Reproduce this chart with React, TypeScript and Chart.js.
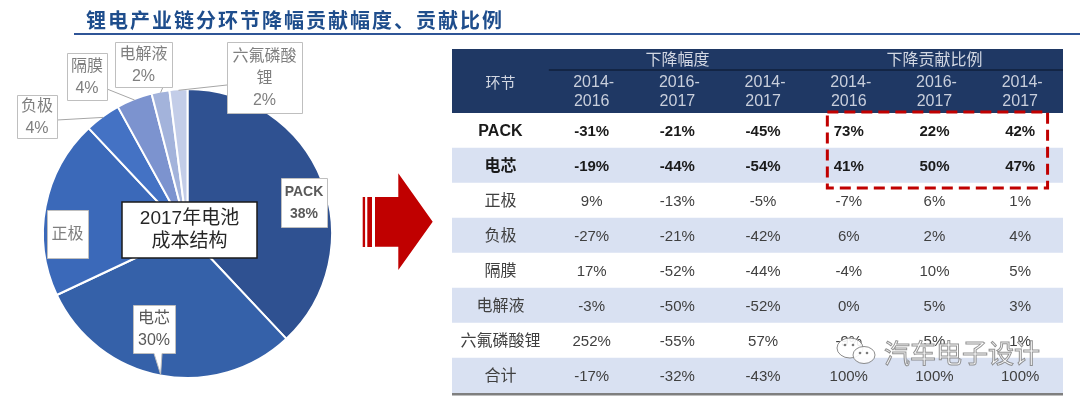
import React, { useEffect, useRef } from 'react';
import { Chart, registerables } from 'chart.js';

Chart.register(...registerables);

// ---------- data ----------
const titleText = '锂电产业链分环节降幅贡献幅度、贡献比例';
const pieCaption = ['2017年电池', '成本结构'];
const sliceLabels = ['PACK', '电芯', '正极', '负极', '隔膜', '电解液', '六氟磷酸锂'];
const sliceValues = [38, 30, 20, 4, 4, 2, 2];

const rowNames = ['PACK', '电芯', '正极', '负极', '隔膜', '电解液', '六氟磷酸锂', '合计'];
const rowHeader = '环节';
const groupLabels = ['下降幅度', '下降贡献比例'];
const periodLabels = ['2014-2016', '2016-2017', '2014-2017'];
const declineValues = [
  [-31, -21, -45],
  [-19, -44, -54],
  [9, -13, -5],
  [-27, -21, -42],
  [17, -52, -44],
  [-3, -50, -52],
  [252, -55, 57],
  [-17, -32, -43],
];
const contributionValues = [
  [73, 22, 42],
  [41, 50, 47],
  [-7, 6, 1],
  [6, 2, 4],
  [-4, 10, 5],
  [0, 5, 3],
  [-9, 5, 1],
  [100, 100, 100],
];
const watermarkText = '汽车电子设计';

// ---------- styles ----------
const sliceColors = ['#2F5191', '#3561A9', '#3B69B9', '#4472C4', '#7C93CF', '#A3B3DB', '#C3CDE8'];
const CJK = '"Noto Sans CJK SC"';
const LAT = '"Liberation Sans", "Noto Sans CJK SC"';

type Box = {
  x: number; y: number; w: number; h: number;
  bold?: boolean; size?: number; color: string; leader: 'none' | 'line' | 'pointer';
  from?: [number, number]; wrap?: number; hideValue?: boolean; pointerBase?: [number, number];
};
const pieLabelBoxes: Box[] = [
  { x: 281, y: 178, w: 46, h: 49, bold: true, size: 14, color: '#595959', leader: 'none' },
  { x: 133, y: 305, w: 42, h: 48, color: '#595959', leader: 'pointer', pointerBase: [154, 162] },
  { x: 47, y: 210, w: 41, h: 48, color: '#7F7F7F', leader: 'none', hideValue: true },
  { x: 17, y: 95, w: 40, h: 43, color: '#7F7F7F', leader: 'line', from: [57, 120] },
  { x: 67, y: 53, w: 40, h: 47, color: '#7F7F7F', leader: 'line', from: [107, 89] },
  { x: 115, y: 42, w: 57, h: 45, color: '#7F7F7F', leader: 'line', from: [163, 87] },
  { x: 227, y: 42, w: 75, h: 71, color: '#7F7F7F', leader: 'line', from: [227, 85], wrap: 4 },
];

const piePlugin = {
  id: 'pieDecor',
  afterDraw(chart: any) {
    const ctx: CanvasRenderingContext2D = chart.ctx;
    const arcs = chart.getDatasetMeta(0).data;
    ctx.save();
    ctx.textAlign = 'center';
    ctx.textBaseline = 'middle';
    arcs.forEach((arc: any, i: number) => {
      const p = arc.getProps(['x', 'y', 'startAngle', 'endAngle', 'outerRadius'], true);
      const mid = (p.startAngle + p.endAngle) / 2;
      const ex = p.x + Math.cos(mid) * (p.outerRadius - 1);
      const ey = p.y + Math.sin(mid) * (p.outerRadius - 1);
      const b = pieLabelBoxes[i];
      ctx.lineWidth = 1;
      ctx.strokeStyle = '#BFBFBF';
      ctx.fillStyle = '#FFFFFF';
      if (b.leader === 'line' && b.from) {
        ctx.beginPath();
        ctx.moveTo(b.from[0], b.from[1]);
        ctx.lineTo(ex, ey);
        ctx.strokeStyle = '#A6A6A6';
        ctx.stroke();
        ctx.strokeStyle = '#BFBFBF';
      }
      const x0 = b.x + 0.5, y0 = b.y + 0.5, x1 = b.x + b.w + 0.5, y1 = b.y + b.h + 0.5;
      ctx.beginPath();
      if (b.leader === 'pointer' && b.pointerBase) {
        ctx.moveTo(x0, y0);
        ctx.lineTo(x1, y0);
        ctx.lineTo(x1, y1);
        ctx.lineTo(b.pointerBase[1], y1);
        ctx.lineTo(ex, ey);
        ctx.lineTo(b.pointerBase[0], y1);
        ctx.lineTo(x0, y1);
        ctx.closePath();
      } else {
        ctx.rect(x0, y0, b.w, b.h);
      }
      ctx.fill();
      ctx.stroke();
      const name = sliceLabels[i];
      const nameLines = b.wrap ? [name.slice(0, b.wrap), name.slice(b.wrap)] : [name];
      const lines = b.hideValue ? nameLines : [...nameLines, `${sliceValues[i]}%`];
      const lh = 22;
      const cy = b.y + b.h / 2;
      ctx.fillStyle = b.color;
      ctx.font = `${b.bold ? 'bold ' : ''}${b.size || 16}px ${LAT}`;
      lines.forEach((t, k) => {
        ctx.fillText(t, b.x + b.w / 2, cy + (k - (lines.length - 1) / 2) * lh + 1);
      });
    });

    // centre caption box
    ctx.fillStyle = '#FFFFFF';
    ctx.strokeStyle = '#1A1A1A';
    ctx.lineWidth = 1.5;
    ctx.fillRect(122, 202, 135, 56);
    ctx.strokeRect(122, 202, 135, 56);
    ctx.fillStyle = '#262626';
    ctx.font = `19px ${LAT}`;
    pieCaption.forEach((t, k) => ctx.fillText(t, 189.5, 219 + k * 23));

    // red arrow
    ctx.fillStyle = '#C00000';
    ctx.fillRect(362.7, 197, 2.4, 50);
    ctx.fillRect(367.3, 197, 4.7, 50);
    ctx.beginPath();
    ctx.moveTo(375, 197);
    ctx.lineTo(398.3, 197);
    ctx.lineTo(398.3, 173.3);
    ctx.lineTo(432.7, 221.7);
    ctx.lineTo(398.3, 270);
    ctx.lineTo(398.3, 246.7);
    ctx.lineTo(375, 246.7);
    ctx.closePath();
    ctx.fill();
    ctx.restore();
  },
};

const labelColMin = -1.13;
const dataCols = 6;

const tablePlugin = {
  id: 'tableDecor',
  afterDraw(chart: any) {
    const ctx: CanvasRenderingContext2D = chart.ctx;
    const xs = chart.scales.x;
    const ys = chart.scales.y;
    const area = chart.chartArea;
    const headerH = 64;
    const top = area.top;
    ctx.save();
    // header
    ctx.fillStyle = '#1F3864';
    ctx.fillRect(area.left, top - headerH, area.right - area.left, headerH);
    ctx.strokeStyle = 'rgba(5,12,28,0.85)';
    ctx.lineWidth = 1.2;
    ctx.beginPath();
    ctx.moveTo(xs.getPixelForValue(0), top - 43);
    ctx.lineTo(area.right, top - 43);
    ctx.stroke();
    ctx.textAlign = 'center';
    ctx.textBaseline = 'middle';
    ctx.fillStyle = '#D3D8E3';
    ctx.font = `15px ${CJK}`;
    ctx.fillText(rowHeader, xs.getPixelForValue(labelColMin / 2), top - 31);
    ctx.font = `16px ${CJK}`;
    groupLabels.forEach((g, gi) => {
      ctx.fillText(g, xs.getPixelForValue(gi * 3 + 1.5), top - 54);
    });
    ctx.fillStyle = '#C9CFDC';
    ctx.font = `16px ${LAT}`;
    for (let c = 0; c < dataCols; c++) {
      const lbl = periodLabels[c % 3];
      const [a, b] = lbl.split('-');
      const cx = xs.getPixelForValue(c + 0.5);
      ctx.fillText(`${a}-`, cx + 2, top - 30);
      ctx.fillText(b, cx, top - 11);
    }
    // body
    rowNames.forEach((name, r) => {
      const cy = ys.getPixelForValue(r) + 1;
      const bold = r < 2;
      ctx.fillStyle = bold ? '#1A1A1A' : '#404040';
      ctx.font = `${bold ? 'bold ' : ''}16px ${LAT}`;
      ctx.fillText(name, xs.getPixelForValue(labelColMin / 2), cy);
      ctx.font = `${bold ? 'bold ' : ''}15px ${LAT}`;
      const vals = [...declineValues[r], ...contributionValues[r]];
      vals.forEach((v, c) => {
        ctx.fillText(`${v}%`, xs.getPixelForValue(c + 0.5), cy);
      });
    });
    // bottom rule
    ctx.strokeStyle = '#7F7F7F';
    ctx.lineWidth = 2.5;
    ctx.beginPath();
    ctx.moveTo(area.left, area.bottom + 1.2);
    ctx.lineTo(area.right, area.bottom + 1.2);
    ctx.stroke();
    // red dashed highlight
    const rowH = ys.getPixelForValue(1) - ys.getPixelForValue(0);
    const bx0 = xs.getPixelForValue(3.25);
    const bx1 = xs.getPixelForValue(5.82);
    const by0 = ys.getPixelForValue(0) - rowH / 2 - 1;
    const by1 = ys.getPixelForValue(1) + rowH / 2 + 5;
    ctx.strokeStyle = '#C00000';
    ctx.lineWidth = 3;
    ctx.setLineDash([11, 6]);
    ctx.strokeRect(bx0, by0, bx1 - bx0, by1 - by0);
    ctx.setLineDash([]);
    // watermark
    const ox = -440;
    ctx.lineWidth = 1;
    ctx.strokeStyle = 'rgba(120,120,120,0.85)';
    ctx.fillStyle = 'rgba(255,255,255,0.9)';
    ctx.beginPath();
    ctx.ellipse(850 + ox, 348, 13, 10, 0, 0, Math.PI * 2);
    ctx.fill();
    ctx.stroke();
    ctx.beginPath();
    ctx.ellipse(864 + ox, 355, 11, 8.5, 0, 0, Math.PI * 2);
    ctx.fill();
    ctx.stroke();
    ctx.fillStyle = 'rgba(110,110,110,0.9)';
    [[845, 345], [853, 345], [860, 353], [867, 353]].forEach(([ex, ey]) => {
      ctx.beginPath();
      ctx.arc(ex + ox, ey, 1.3, 0, Math.PI * 2);
      ctx.fill();
    });
    ctx.font = `26px ${CJK}`;
    ctx.textAlign = 'left';
    ctx.fillStyle = 'rgba(255,255,255,0.85)';
    ctx.fillText(watermarkText, 884 + ox, 353);
    ctx.strokeStyle = 'rgba(120,120,120,0.8)';
    ctx.strokeText(watermarkText, 884 + ox, 353);
    ctx.restore();
  },
};

export default function App() {
  const pieRef = useRef<HTMLCanvasElement>(null);
  const tableRef = useRef<HTMLCanvasElement>(null);

  useEffect(() => {
    const pie = new Chart(pieRef.current as HTMLCanvasElement, {
      type: 'pie',
      data: {
        labels: sliceLabels,
        datasets: [
          {
            data: sliceValues,
            backgroundColor: sliceColors,
            borderColor: '#FFFFFF',
            borderWidth: 2,
            hoverOffset: 0,
          },
        ],
      },
      options: {
        animation: false,
        responsive: false,
        events: [],
        layout: { padding: { left: 42, top: 88, right: 107, bottom: 24 } },
        plugins: { legend: { display: false }, tooltip: { enabled: false } },
      },
      plugins: [piePlugin],
    } as any);

    const table = new Chart(tableRef.current as HTMLCanvasElement, {
      type: 'bar',
      data: {
        labels: rowNames,
        datasets: [
          {
            data: rowNames.map(() => [labelColMin, dataCols]),
            backgroundColor: rowNames.map((_, i) => (i % 2 === 1 ? '#D9E1F2' : '#FFFFFF')),
            borderWidth: 0,
            barPercentage: 1,
            categoryPercentage: 1,
          },
        ],
      },
      options: {
        indexAxis: 'y',
        animation: false,
        responsive: false,
        events: [],
        layout: { padding: { left: 12, right: 17, top: 113, bottom: 10 } },
        scales: {
          x: { type: 'linear', min: labelColMin, max: dataCols, display: false },
          y: { type: 'category', display: false },
        },
        plugins: { legend: { display: false }, tooltip: { enabled: false } },
      },
      plugins: [tablePlugin],
    } as any);

    return () => {
      pie.destroy();
      table.destroy();
    };
  }, []);

  return (
    <div style={{ position: 'absolute', left: 0, top: 0, width: 1080, height: 403, background: '#FFFFFF', overflow: 'hidden' }}>
      <canvas ref={pieRef} width={440} height={403} style={{ position: 'absolute', left: 0, top: 0, width: 440, height: 403 }} />
      <canvas ref={tableRef} width={640} height={403} style={{ position: 'absolute', left: 440, top: 0, width: 640, height: 403 }} />
      <div
        style={{
          position: 'absolute',
          left: 86,
          top: 6,
          fontFamily: CJK,
          fontWeight: 700,
          fontSize: 20,
          letterSpacing: 2,
          lineHeight: '28px',
          color: '#1E4D8C',
          whiteSpace: 'nowrap',
        }}
      >
        {titleText}
      </div>
      <div style={{ position: 'absolute', left: 74, top: 33, width: 1006, height: 2, background: '#2F5597' }} />
    </div>
  );
}
